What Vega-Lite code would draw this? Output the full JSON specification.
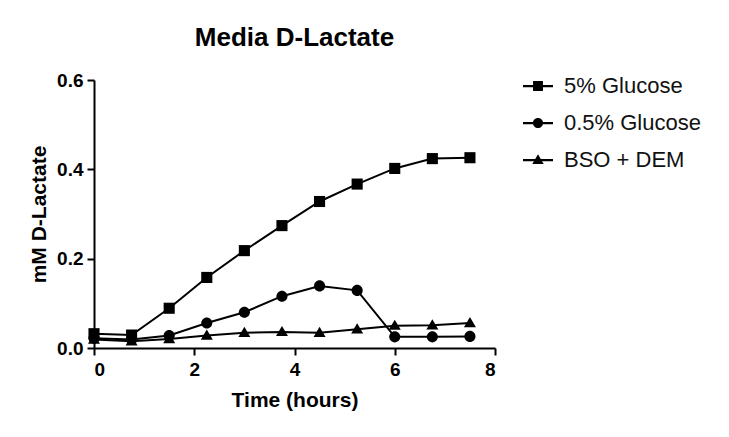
{
  "$schema": "https://vega.github.io/schema/vega-lite/v6.json",
  "width": 401,
  "height": 268,
  "autosize": {"type": "none"},
  "padding": {"left": 94, "top": 80, "right": 234, "bottom": 89},
  "background": "white",
  "title": {
    "text": "Media D-Lactate",
    "font": "Liberation Sans",
    "fontSize": 26,
    "fontWeight": "bold",
    "color": "#000000",
    "anchor": "middle",
    "frame": "group",
    "offset": 20
  },
  "data": {
    "values": [
      {"t": 0, "v": 0.032, "s": "5% Glucose"},
      {"t": 0.75, "v": 0.029, "s": "5% Glucose"},
      {"t": 1.5, "v": 0.089, "s": "5% Glucose"},
      {"t": 2.25, "v": 0.158, "s": "5% Glucose"},
      {"t": 3, "v": 0.218, "s": "5% Glucose"},
      {"t": 3.75, "v": 0.274, "s": "5% Glucose"},
      {"t": 4.5, "v": 0.328, "s": "5% Glucose"},
      {"t": 5.25, "v": 0.367, "s": "5% Glucose"},
      {"t": 6, "v": 0.402, "s": "5% Glucose"},
      {"t": 6.75, "v": 0.424, "s": "5% Glucose"},
      {"t": 7.5, "v": 0.426, "s": "5% Glucose"},
      {"t": 0, "v": 0.022, "s": "0.5% Glucose"},
      {"t": 0.75, "v": 0.019, "s": "0.5% Glucose"},
      {"t": 1.5, "v": 0.028, "s": "0.5% Glucose"},
      {"t": 2.25, "v": 0.056, "s": "0.5% Glucose"},
      {"t": 3, "v": 0.080, "s": "0.5% Glucose"},
      {"t": 3.75, "v": 0.116, "s": "0.5% Glucose"},
      {"t": 4.5, "v": 0.139, "s": "0.5% Glucose"},
      {"t": 5.25, "v": 0.129, "s": "0.5% Glucose"},
      {"t": 6, "v": 0.025, "s": "0.5% Glucose"},
      {"t": 6.75, "v": 0.025, "s": "0.5% Glucose"},
      {"t": 7.5, "v": 0.026, "s": "0.5% Glucose"},
      {"t": 0, "v": 0.019, "s": "BSO + DEM"},
      {"t": 0.75, "v": 0.015, "s": "BSO + DEM"},
      {"t": 1.5, "v": 0.020, "s": "BSO + DEM"},
      {"t": 2.25, "v": 0.028, "s": "BSO + DEM"},
      {"t": 3, "v": 0.034, "s": "BSO + DEM"},
      {"t": 3.75, "v": 0.036, "s": "BSO + DEM"},
      {"t": 4.5, "v": 0.034, "s": "BSO + DEM"},
      {"t": 5.25, "v": 0.042, "s": "BSO + DEM"},
      {"t": 6, "v": 0.050, "s": "BSO + DEM"},
      {"t": 6.75, "v": 0.051, "s": "BSO + DEM"},
      {"t": 7.5, "v": 0.056, "s": "BSO + DEM"}
    ]
  },
  "encoding": {
    "x": {
      "field": "t",
      "type": "quantitative",
      "scale": {"domain": [0, 8], "nice": false, "zero": false},
      "axis": {
        "title": "Time (hours)",
        "values": [0, 2, 4, 6, 8],
        "format": "d",
        "labelPadding": 5,
        "titlePadding": 10
      }
    },
    "y": {
      "field": "v",
      "type": "quantitative",
      "scale": {"domain": [0, 0.6], "nice": false},
      "axis": {
        "title": "mM D-Lactate",
        "values": [0, 0.2, 0.4, 0.6],
        "format": ".1f",
        "labelPadding": 4,
        "titlePadding": 7
      }
    }
  },
  "layer": [
    {
      "mark": {"type": "line", "color": "#000000", "strokeWidth": 2},
      "encoding": {"detail": {"field": "s"}}
    },
    {
      "mark": {"type": "point", "filled": true, "color": "#000000", "size": 900, "opacity": 0},
      "encoding": {
        "shape": {
          "field": "s",
          "type": "nominal",
          "scale": {
            "domain": ["5% Glucose", "0.5% Glucose", "BSO + DEM"],
            "range": [
              "M-1,-0.075H1V0.075H-1ZM-0.33,-0.33H0.33V0.33H-0.33Z",
              "M-1,-0.075H1V0.075H-1ZM0.34,0A0.34,0.34,0,1,1,-0.34,0A0.34,0.34,0,1,1,0.34,0Z",
              "M-1,-0.075H1V0.075H-1ZM0,-0.38L0.38,0.26H-0.38Z"
            ]
          },
          "legend": {
            "title": null,
            "orient": "none",
            "legendX": 429,
            "legendY": -9,
            "symbolSize": 900,
            "symbolOpacity": 1,
            "symbolFillColor": "#000000",
            "symbolStrokeWidth": 0,
            "labelOffset": 11,
            "rowPadding": 11,
            "labelFont": "Liberation Sans",
            "labelFontSize": 22,
            "labelColor": "#111111"
          }
        }
      }
    },
    {
      "mark": {"type": "point", "filled": true, "color": "#000000", "size": 900, "opacity": 1},
      "encoding": {
        "shape": {
          "field": "s",
          "type": "nominal",
          "scale": {
            "domain": ["5% Glucose", "0.5% Glucose", "BSO + DEM"],
            "range": [
              "M-0.37,-0.37H0.37V0.37H-0.37Z",
              "M0.37,0A0.37,0.37,0,1,1,-0.37,0A0.37,0.37,0,1,1,0.37,0Z",
              "M0,-0.4L0.4,0.28H-0.4Z"
            ]
          },
          "legend": null
        }
      }
    }
  ],
  "resolve": {"scale": {"shape": "independent"}, "legend": {"shape": "independent"}},
  "config": {
    "view": {"stroke": null},
    "axis": {
      "grid": false,
      "domainColor": "#000000",
      "domainWidth": 2,
      "tickColor": "#000000",
      "tickWidth": 2,
      "tickSize": 7,
      "labelFont": "Liberation Sans",
      "labelFontSize": 19,
      "labelFontWeight": "bold",
      "labelColor": "#000000",
      "titleFont": "Liberation Sans",
      "titleFontSize": 21,
      "titleFontWeight": "bold",
      "titleColor": "#000000"
    }
  }
}
